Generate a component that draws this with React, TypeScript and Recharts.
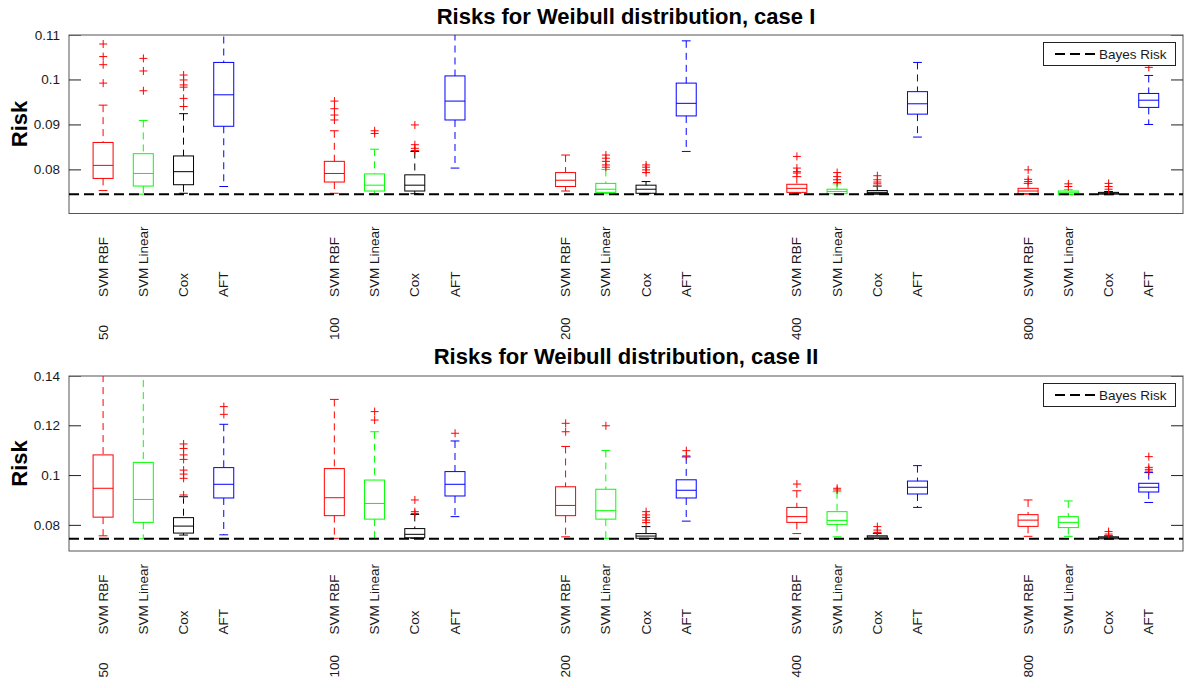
import React from 'react';
import { ComposedChart, Bar, Scatter, XAxis, YAxis, ReferenceLine, ReferenceArea, Legend } from 'recharts';

const METHODS = ['SVM RBF', 'SVM Linear', 'Cox', 'AFT'];
const SAMPLE_SIZES = ['50', '100', '200', '400', '800'];
const METHOD_COLORS = ['#ff0000', '#00ff00', '#000000', '#0000ff'];
const OUTLIER_COLOR = '#ff0000';
const BAYES_RISK = 0.0746;

// box order: for each sample size -> SVM RBF, SVM Linear, Cox, AFT
const CASE1_LO = [
  0.0754, 0.0746, 0.0748, 0.0763,
  0.0748, 0.0747, 0.0747, 0.0804,
  0.0753, 0.0747, 0.0747, 0.0841,
  0.0748, 0.0746, 0.0746, 0.0873,
  0.0746, 0.0745, 0.0745, 0.0901,
];
const CASE1_Q1 = [
  0.0781, 0.0764, 0.0767, 0.0897,
  0.0773, 0.0753, 0.0753, 0.0911,
  0.0763, 0.075, 0.0748, 0.092,
  0.075, 0.0747, 0.0747, 0.0924,
  0.0747, 0.0745, 0.0746, 0.0939,
];
const CASE1_MED = [
  0.081, 0.0792, 0.0796, 0.0967,
  0.0792, 0.0766, 0.0766, 0.0953,
  0.0777, 0.0757, 0.0757, 0.0948,
  0.0759, 0.0752, 0.075, 0.0947,
  0.0753, 0.0749, 0.0748, 0.0955,
];
const CASE1_Q3 = [
  0.0861, 0.0836, 0.0831, 0.1039,
  0.0819, 0.0791, 0.0789, 0.1009,
  0.0794, 0.077, 0.0766, 0.0993,
  0.0768, 0.0757, 0.0754, 0.0974,
  0.0759, 0.0753, 0.075, 0.097,
];
const CASE1_HI = [
  0.0944, 0.091, 0.0925, 0.115,
  0.0887, 0.0846, 0.0841, 0.113,
  0.0833, 0.0801, 0.0774, 0.1087,
  0.0785, 0.0769, 0.0764, 0.1039,
  0.077, 0.0756, 0.0752, 0.101,
];
// [box index, value]
const CASE1_OUTLIERS: [number, number][] = [
  [0, 0.108], [0, 0.1052], [0, 0.1034], [0, 0.0993],
  [1, 0.1048], [1, 0.102], [1, 0.0976],
  [2, 0.1011], [2, 0.1], [2, 0.0989], [2, 0.0984], [2, 0.0959], [2, 0.0941],
  [4, 0.0953], [4, 0.0936], [4, 0.0922], [4, 0.0911],
  [5, 0.0887], [5, 0.0881],
  [6, 0.09], [6, 0.0856], [6, 0.0848], [6, 0.0843],
  [9, 0.0833], [9, 0.0826], [9, 0.0819], [9, 0.0811], [9, 0.0806],
  [10, 0.0811], [10, 0.0806], [10, 0.08], [10, 0.0794],
  [12, 0.083], [12, 0.0804], [12, 0.0796], [12, 0.0793],
  [13, 0.0794], [13, 0.0785], [13, 0.0778], [13, 0.0772],
  [14, 0.0787], [14, 0.0778], [14, 0.0773], [14, 0.0769],
  [16, 0.08], [16, 0.0779], [16, 0.0774],
  [17, 0.0769], [17, 0.0763],
  [18, 0.077], [18, 0.0763], [18, 0.0757],
  [19, 0.1028],
];

const CASE2_LO = [
  0.0758, 0.0746, 0.0761, 0.0762,
  0.0748, 0.0748, 0.0748, 0.0835,
  0.0754, 0.0748, 0.0747, 0.0817,
  0.0767, 0.0754, 0.0747, 0.0872,
  0.0756, 0.0756, 0.0746, 0.0892,
];
const CASE2_Q1 = [
  0.0833, 0.0812, 0.0769, 0.091,
  0.0839, 0.0825, 0.075, 0.0918,
  0.0839, 0.0825, 0.0748, 0.091,
  0.0812, 0.0804, 0.0748, 0.0926,
  0.0796, 0.0791, 0.0746, 0.0934,
];
const CASE2_MED = [
  0.0949, 0.0904, 0.0797, 0.0965,
  0.0911, 0.0888, 0.0764, 0.0965,
  0.088, 0.0859, 0.0757, 0.0941,
  0.0835, 0.082, 0.0753, 0.0953,
  0.0821, 0.0812, 0.075, 0.0953,
];
const CASE2_Q3 = [
  0.1083, 0.1053, 0.0831, 0.1032,
  0.1028, 0.0982, 0.0787, 0.1016,
  0.0955, 0.0945, 0.0767, 0.0983,
  0.0872, 0.0855, 0.0758, 0.0978,
  0.0843, 0.0835, 0.0754, 0.0969,
];
const CASE2_HI = [
  0.15, 0.148, 0.0915, 0.1206,
  0.1306, 0.1176, 0.0844, 0.1139,
  0.1117, 0.1101, 0.0795, 0.1075,
  0.0939, 0.0935, 0.0768, 0.104,
  0.0902, 0.0898, 0.0758, 0.1012,
];
const CASE2_OUTLIERS: [number, number][] = [
  [2, 0.1127], [2, 0.1109], [2, 0.1083], [2, 0.1065], [2, 0.1022], [2, 0.1006], [2, 0.0989], [2, 0.0922],
  [3, 0.1277], [3, 0.1246],
  [5, 0.1257], [5, 0.1223],
  [6, 0.0902], [6, 0.0855], [6, 0.0848],
  [7, 0.117],
  [8, 0.121], [8, 0.1176],
  [9, 0.12],
  [10, 0.0855], [10, 0.0842], [10, 0.0832], [10, 0.0821], [10, 0.0811],
  [11, 0.11], [11, 0.1079],
  [12, 0.0966],
  [13, 0.0949], [13, 0.0942],
  [14, 0.0795], [14, 0.0781], [14, 0.0772],
  [18, 0.0775], [18, 0.0765],
  [19, 0.1076], [19, 0.1033], [19, 0.1025], [19, 0.1018],
];

const CASE1_TICKS = [0.08, 0.09, 0.1, 0.11];
const CASE2_TICKS = [0.08, 0.1, 0.12, 0.14];

// layout along x: boxes one unit apart, groups 5.75 units apart
const GROUP_STEP = 5.75;
const POSITIONS = SAMPLE_SIZES.flatMap((_, g) => METHODS.map((__, m) => g * GROUP_STEP + m));
const X_DOMAIN = [-0.85, POSITIONS[POSITIONS.length - 1] + 0.85];

const FONT = '"Liberation Sans", Arial, Helvetica, sans-serif';
const TEXT_COLOR = '#1a1a1a';

const BoxShape = (props: any) => {
  const { x, y, width, height, payload } = props;
  if (x == null || y == null || !payload) return null;
  const { lo, q1, med, q3, hi, method } = payload;
  const color = METHOD_COLORS[method];
  const py = (v: number) => y + (height * (hi - v)) / (hi - lo);
  const cx = x + width / 2;
  const cap = width * 0.22;
  return (
    <g>
      <line x1={cx} x2={cx} y1={py(hi)} y2={py(q3)} stroke={color} strokeDasharray="7 5" />
      <line x1={cx} x2={cx} y1={py(q1)} y2={py(lo)} stroke={color} strokeDasharray="7 5" />
      <line x1={cx - cap} x2={cx + cap} y1={py(hi)} y2={py(hi)} stroke={color} />
      <line x1={cx - cap} x2={cx + cap} y1={py(lo)} y2={py(lo)} stroke={color} />
      <rect x={x} y={py(q3)} width={width} height={py(q1) - py(q3)} fill="none" stroke={color} />
      <line x1={x} x2={x + width} y1={py(med)} y2={py(med)} stroke={color} />
    </g>
  );
};

const PlusShape = (props: any) => {
  const { cx, cy } = props;
  if (cx == null || cy == null) return null;
  return (
    <g>
      <line x1={cx - 4} x2={cx + 4} y1={cy} y2={cy} stroke={OUTLIER_COLOR} />
      <line x1={cx} x2={cx} y1={cy - 4} y2={cy + 4} stroke={OUTLIER_COLOR} />
    </g>
  );
};

// inward axis tick, drawn from the axis edge into the plot
const TickMark = (props: any) => {
  const { cx, cy, payload } = props;
  if (cx == null || cy == null || !payload) return null;
  return <line x1={cx} x2={cx + payload.side * 12} y1={cy} y2={cy} stroke="#222" />;
};

const Frame = (props: any) => {
  const { x, y, width, height } = props;
  if (x == null || y == null) return null;
  return <rect x={x} y={y} width={width} height={height} fill="none" stroke="#555" />;
};

const XTick = (props: any) => {
  const { x, y, payload } = props;
  const i = POSITIONS.indexOf(payload.value);
  if (i < 0) return null;
  const m = i % 4;
  const g = Math.floor(i / 4);
  const ly = y + 83.5;
  const gy = y + 126.5;
  return (
    <g>
      <text x={x} y={ly} transform={`rotate(-90, ${x}, ${ly})`} textAnchor="start" dominantBaseline="central"
        fontFamily={FONT} fontSize={13.5} fill={TEXT_COLOR}>{METHODS[m]}</text>
      {m === 0 && (
        <text x={x} y={gy} transform={`rotate(-90, ${x}, ${gy})`} textAnchor="start" dominantBaseline="central"
          fontFamily={FONT} fontSize={13.5} fill={TEXT_COLOR}>{SAMPLE_SIZES[g]}</text>
      )}
    </g>
  );
};

const LeftTick = (props: any) => {
  const { x, y, payload } = props;
  return (
    <text x={x} y={y} textAnchor="end" dominantBaseline="central" fontFamily={FONT} fontSize={13.5} fill={TEXT_COLOR}>
      {String(payload.value)}
    </text>
  );
};

const BayesLegend = () => (
  <div style={{ width: 133, height: 24, border: '1px solid #222', background: '#fff', boxSizing: 'border-box' }}>
    <svg width={131} height={22} style={{ display: 'block' }}>
      <line x1={11} x2={51} y1={11} y2={11} stroke="#000" strokeWidth={2} strokeDasharray="10 5" />
      <text x={55} y={11.5} dominantBaseline="central" fontFamily={FONT} fontSize={13.5} fill={TEXT_COLOR}>Bayes Risk</text>
    </svg>
  </div>
);

interface PanelProps {
  lo: number[];
  q1: number[];
  med: number[];
  q3: number[];
  hi: number[];
  outliers: [number, number][];
  domain: [number, number];
  ticks: number[];
  height: number;
  xHeight: number;
}

const Panel: React.FC<PanelProps> = ({ lo, q1, med, q3, hi, outliers, domain, ticks, height, xHeight }) => {
  const boxes = POSITIONS.map((pos, i) => ({ pos, lo: lo[i], q1: q1[i], med: med[i], q3: q3[i], hi: hi[i], method: i % 4 }));
  const points = outliers.map(([i, v]) => ({ pos: POSITIONS[i], val: v }));
  const tickMarks = ticks.flatMap((t) => [
    { pos: X_DOMAIN[0], val: t, side: 1 },
    { pos: X_DOMAIN[1], val: t, side: -1 },
  ]);
  return (
    <ComposedChart width={1192} height={height} data={boxes} margin={{ top: 35, right: 9, bottom: 0, left: 9 }}>
      <XAxis
        type="number"
        dataKey="pos"
        domain={X_DOMAIN}
        ticks={POSITIONS}
        interval={0}
        allowDataOverflow
        axisLine={false}
        tickLine={false}
        tickSize={0}
        tickMargin={0}
        height={xHeight}
        tick={(p: any) => <XTick {...p} />}
      />
      <YAxis
        type="number"
        domain={domain}
        ticks={ticks}
        allowDataOverflow
        width={60}
        axisLine={false}
        tickLine={false}
        tickSize={6}
        tickMargin={3}
        tick={(p: any) => <LeftTick {...p} />}
      />
      <ReferenceArea x1={X_DOMAIN[0]} x2={X_DOMAIN[1]} y1={domain[0]} y2={domain[1]} ifOverflow="visible" shape={Frame} />
      <Bar dataKey={(d: any) => [d.lo, d.hi]} barSize={20} shape={BoxShape} isAnimationActive={false} />
      <Scatter data={points} dataKey="val" shape={PlusShape} isAnimationActive={false} />
      <Scatter data={tickMarks} dataKey="val" shape={TickMark} isAnimationActive={false} />
      <ReferenceLine y={BAYES_RISK} stroke="#000" strokeWidth={2} strokeDasharray="10 5" />
      <Legend
        layout="horizontal"
        verticalAlign="middle"
        align="center"
        content={() => <BayesLegend />}
        wrapperStyle={{ top: 42, left: 1043, width: 133, height: 24 }}
      />
    </ComposedChart>
  );
};

export default function App() {
  return (
    <div style={{ position: 'relative', width: 1192, height: 688, background: '#fff', overflow: 'hidden', fontFamily: FONT }}>
      <style>{'body{margin:0}'}</style>
      <div style={{ position: 'absolute', left: 0, top: 0 }}>
        <Panel lo={CASE1_LO} q1={CASE1_Q1} med={CASE1_MED} q3={CASE1_Q3} hi={CASE1_HI} outliers={CASE1_OUTLIERS}
          domain={[0.0703, 0.11]} ticks={CASE1_TICKS} height={344} xHeight={130.5} />
      </div>
      <div style={{ position: 'absolute', left: 0, top: 341 }}>
        <Panel lo={CASE2_LO} q1={CASE2_Q1} med={CASE2_MED} q3={CASE2_Q3} hi={CASE2_HI} outliers={CASE2_OUTLIERS}
          domain={[0.0697, 0.14]} ticks={CASE2_TICKS} height={347} xHeight={137} />
      </div>
      <svg width={1192} height={688} style={{ position: 'absolute', left: 0, top: 0, pointerEvents: 'none' }}>
        <text x={626} y={24} textAnchor="middle" fontFamily={FONT} fontWeight="bold" fontSize={22} fill="#000">
          Risks for Weibull distribution, case I
        </text>
        <text x={626} y={364} textAnchor="middle" fontFamily={FONT} fontWeight="bold" fontSize={22} fill="#000">
          Risks for Weibull distribution, case II
        </text>
        <text x={19} y={124} transform="rotate(-90, 19, 124)" textAnchor="middle" dominantBaseline="central"
          fontFamily={FONT} fontWeight="bold" fontSize={22} fill="#000">Risk</text>
        <text x={19} y={463.5} transform="rotate(-90, 19, 463.5)" textAnchor="middle" dominantBaseline="central"
          fontFamily={FONT} fontWeight="bold" fontSize={22} fill="#000">Risk</text>
      </svg>
    </div>
  );
}
